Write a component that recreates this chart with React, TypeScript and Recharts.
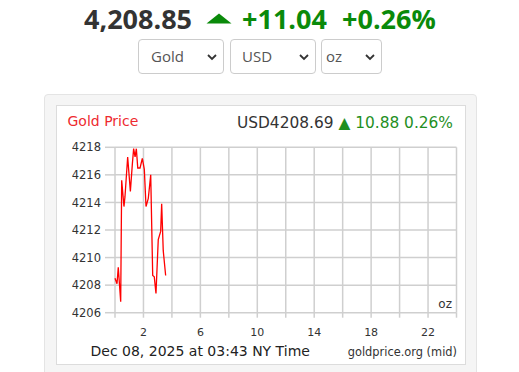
import { CartesianGrid, Line, LineChart, XAxis, YAxis } from 'recharts';

// hours since midnight NY time, and mid price in USD/oz
const hours = [
  0, 0.14, 0.23, 0.4, 0.47, 0.63, 0.7, 0.89, 1.08, 1.22, 1.31, 1.41, 1.5, 1.6, 1.76, 1.92,
  2.06, 2.18, 2.34, 2.51, 2.65, 2.76, 2.88, 3.04, 3.21, 3.28, 3.39, 3.56,
];
const prices = [
  4208.5, 4208.1, 4209.3, 4206.8, 4215.6, 4213.7, 4214.4, 4217.3, 4214.8, 4216.8, 4217.9,
  4217.3, 4217.9, 4216.5, 4216.5, 4217.2, 4216.4, 4213.7, 4214.3, 4216.0, 4208.7, 4208.6,
  4207.4, 4211.3, 4211.9, 4213.9, 4210.5, 4208.7,
];
const hourTicks = [0, 2, 4, 6, 8, 10, 12, 14, 16, 18, 20, 22, 24];
const labelledHours = [2, 6, 10, 14, 18, 22];
const priceTicks = [4206, 4208, 4210, 4212, 4214, 4216, 4218];
const selects = ['Gold', 'USD', 'oz'];

const data = hours.map((h, i) => ({ h, price: prices[i] }));

const chartFont = '"DejaVu Sans", Verdana, sans-serif';
const pageFont = '"Open Sans", sans-serif';
const green = '#0a8a0a';

function Chevron({ x }: { x: number }) {
  return (
    <svg
      width={10}
      height={7}
      style={{ position: 'absolute', left: x, top: 54 }}
    >
      <polyline points="1,1 5,5 9,1" fill="none" stroke="#333" strokeWidth={1.8} />
    </svg>
  );
}

const selectBoxes = [
  { left: 138, width: 86, textLeft: 151, chevron: 207 },
  { left: 230, width: 86, textLeft: 242, chevron: 299 },
  { left: 321, width: 61, textLeft: 326, chevron: 365 },
];

export default function App() {
  return (
    <div
      style={{
        position: 'fixed',
        left: 0,
        top: 0,
        width: 519,
        height: 372,
        overflow: 'hidden',
        background: '#fff',
      }}
    >
      {/* headline quote */}
      <div style={{ fontFamily: pageFont, fontWeight: 700, fontSize: 27, lineHeight: '27px' }}>
        <div style={{ position: 'absolute', left: 84, top: 5, color: '#333' }}>4,208.85</div>
        <svg width={26} height={11} style={{ position: 'absolute', left: 206, top: 13 }}>
          <polygon points="0.5,10.5 13,0.5 25.5,10.5" fill={green} />
        </svg>
        <div style={{ position: 'absolute', left: 242, top: 5, color: green }}>+11.04</div>
        <div style={{ position: 'absolute', left: 342, top: 5, color: green }}>+0.26%</div>
      </div>

      {selectBoxes.map((b, i) => (
        <div key={selects[i]}>
          <div
            style={{
              position: 'absolute',
              left: b.left,
              top: 39,
              width: b.width,
              height: 35,
              border: '1px solid #ccc',
              borderRadius: 4,
              boxSizing: 'border-box',
              background: '#fff',
            }}
          />
          <div
            style={{
              position: 'absolute',
              left: b.textLeft,
              top: 46,
              fontFamily: pageFont,
              fontSize: 15,
              lineHeight: '20px',
              color: '#555',
            }}
          >
            {selects[i]}
          </div>
          <Chevron x={b.chevron} />
        </div>
      ))}

      {/* chart panel */}
      <div
        style={{
          position: 'absolute',
          left: 44,
          top: 94,
          width: 433,
          height: 290,
          background: '#f5f5f5',
          border: '1px solid #e4e4e4',
          borderRadius: 4,
          boxSizing: 'border-box',
        }}
      />
      <div
        style={{
          position: 'absolute',
          left: 56,
          top: 105,
          width: 410,
          height: 260,
          background: '#fff',
          border: '1px solid #dcdcdc',
          boxSizing: 'border-box',
        }}
      />

      <div style={{ position: 'absolute', left: 0, top: 0 }}>
        <LineChart
          width={519}
          height={372}
          data={data}
          margin={{ top: 147.3, right: 62.5, left: 0, bottom: 0 }}
        >
          <CartesianGrid stroke="#cfcfcf" strokeWidth={1.5} />
          <XAxis
            dataKey="h"
            type="number"
            domain={[0, 24]}
            ticks={hourTicks}
            height={59.3}
            axisLine={false}
            tickLine={{ stroke: '#cfcfcf', strokeWidth: 1.5 }}
            tickSize={5}
            tickMargin={10}
            tick={{ fill: '#333', fontSize: 11, fontFamily: chartFont }}
            tickFormatter={(v: number) => (labelledHours.includes(v) ? String(v) : '')}
          />
          <YAxis
            type="number"
            domain={[4206, 4218]}
            ticks={priceTicks}
            width={115}
            axisLine={false}
            tickLine={{ stroke: '#cfcfcf', strokeWidth: 1.5 }}
            tickSize={10}
            tickMargin={4}
            tick={{ fill: '#333', fontSize: 11.5, fontFamily: chartFont }}
          />
          <Line
            dataKey="price"
            type="linear"
            stroke="#ff0000"
            strokeWidth={1.3}
            dot={false}
            isAnimationActive={false}
          />
        </LineChart>
      </div>

      {/* chart texts */}
      <svg
        width={519}
        height={372}
        style={{ position: 'absolute', left: 0, top: 0, pointerEvents: 'none' }}
        fontFamily={chartFont}
      >
        <text x={67.5} y={126} fontSize={14} fill="#ee2a30">
          Gold Price
        </text>
        <text x={453} y={127.5} fontSize={15.4} textAnchor="end">
          <tspan fill="#333">USD4208.69 </tspan>
          <tspan fill="#1f8f1f">▲ 10.88 0.26%</tspan>
        </text>
        <text x={452} y={308} fontSize={12} textAnchor="end" fill="#333">
          oz
        </text>
        <text x={90.5} y={356} fontSize={14} fill="#222">
          Dec 08, 2025 at 03:43 NY Time
        </text>
        <text x={457} y={355.5} fontSize={11.4} textAnchor="end" fill="#333">
          goldprice.org (mid)
        </text>
      </svg>
    </div>
  );
}
